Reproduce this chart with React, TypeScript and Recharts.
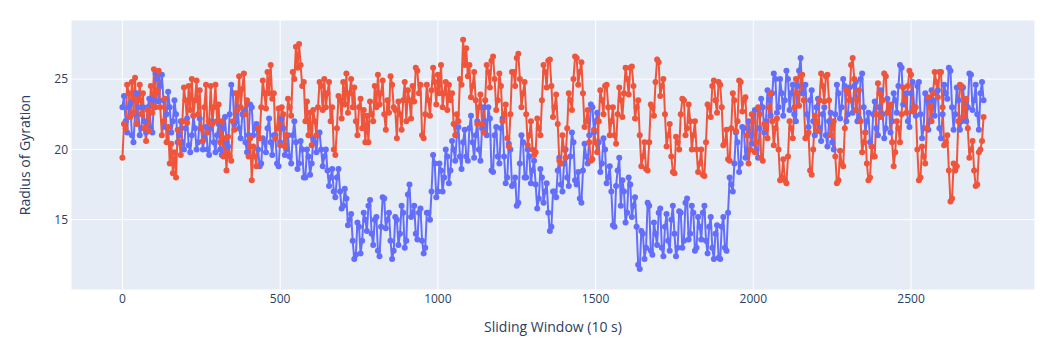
import React from 'react';
import { LineChart, Line, XAxis, YAxis, CartesianGrid } from 'recharts';

const BLUE = '#636efa';
const RED = '#EF553B';
const INK = '#2a3f5f';
const FONT = '"Open Sans", verdana, arial, sans-serif';

// one sample every 5 windows
const WINDOW_STEP = 5;

const xTicks = [0, 500, 1000, 1500, 2000, 2500];
const yTicks = [15, 20, 25];

const blueRg = [
  // 0
  23.0, 23.8, 22.0, 21.2, 23.0, 23.3, 21.0, 20.5, 22.5, 24.0, 23.0, 21.0, 21.5, 23.0, 22.0, 21.2, 23.0, 23.6, 21.5, 21.2,
  23.5, 25.4, 25.0, 23.4, 24.5, 25.3, 23.5, 21.6, 22.5, 24.1, 23.0, 21.2, 22.0, 23.5, 22.5, 20.5, 21.0, 22.0, 20.5, 20.0,
  21.5, 22.2, 20.3, 19.8, 21.0, 22.4, 21.5, 20.0, 20.5, 22.2, 21.5, 20.0, 20.8, 21.6, 20.0, 19.6, 21.5, 22.0, 20.5, 19.8,
  // 300
  21.0, 21.8, 20.0, 19.6, 21.5, 22.3, 20.5, 20.2, 22.5, 24.6, 24.0, 21.8, 22.0, 23.0, 21.5, 20.8, 22.5, 22.8, 20.5, 19.8,
  21.0, 23.2, 23.0, 21.0, 21.5, 21.8, 20.0, 18.8, 19.0, 20.8, 20.5, 19.8, 21.5, 22.2, 20.5, 19.6, 21.0, 21.0, 19.0, 18.8,
  20.5, 22.2, 21.5, 19.6, 20.0, 21.0, 19.5, 19.0, 21.0, 22.0, 20.5, 18.6, 19.0, 20.6, 20.0, 18.0, 18.0, 20.0, 19.5, 18.2,
  // 600
  19.0, 20.8, 20.5, 19.8, 21.0, 21.2, 20.0, 18.8, 19.5, 20.0, 18.5, 17.4, 18.0, 18.6, 17.0, 16.6, 18.0, 18.6, 17.0, 15.8,
  16.0, 17.2, 16.5, 14.6, 15.0, 15.4, 13.5, 12.2, 12.5, 14.8, 14.5, 12.6, 13.5, 15.5, 15.0, 14.2, 16.0, 16.4, 14.0, 13.2,
  15.0, 15.2, 12.8, 12.4, 14.5, 16.6, 16.5, 14.4, 15.0, 15.5, 13.5, 12.2, 12.8, 15.2, 15.0, 13.2, 14.0, 16.0, 15.5, 13.0,
  // 900
  13.5, 16.8, 17.5, 15.2, 15.5, 16.0, 14.0, 13.6, 15.5, 15.8, 13.5, 12.6, 13.0, 15.5, 15.5, 15.0, 17.0, 19.6, 19.0, 16.6,
  17.0, 19.0, 18.5, 17.0, 18.0, 20.0, 19.5, 17.6, 18.5, 20.6, 20.0, 19.2, 21.0, 21.6, 19.5, 18.6, 20.5, 21.4, 19.5, 19.2,
  21.5, 22.4, 20.5, 19.4, 21.0, 22.0, 20.0, 19.2, 21.5, 23.0, 22.0, 21.0, 23.0, 22.2, 18.5, 18.4, 21.0, 21.6, 19.5, 19.0,
  // 1200
  21.5, 22.2, 19.5, 17.6, 18.0, 20.4, 20.0, 17.4, 17.5, 18.0, 16.0, 16.2, 19.0, 21.0, 20.5, 18.0, 18.0, 20.0, 19.5, 17.6,
  18.5, 19.2, 17.5, 15.8, 16.5, 18.6, 18.0, 16.2, 17.0, 17.6, 15.5, 14.2, 14.5, 17.0, 17.0, 16.6, 18.5, 19.4, 17.5, 17.0,
  19.0, 20.0, 18.0, 17.4, 19.5, 21.2, 20.5, 17.8, 17.5, 18.4, 16.5, 16.2, 18.5, 20.4, 19.5, 19.0, 21.0, 23.2, 23.0, 21.2,
  // 1500
  22.0, 22.6, 20.5, 18.4, 19.0, 20.8, 20.0, 17.6, 18.0, 18.8, 17.0, 14.6, 14.5, 17.4, 18.5, 19.4, 16.0, 17.8, 17.0, 14.8,
  15.5, 18.0, 17.5, 15.2, 16.0, 16.6, 14.5, 11.8, 11.5, 14.2, 14.0, 12.2, 13.0, 16.2, 16.0, 12.8, 12.5, 14.8, 14.0, 13.2,
  15.5, 15.8, 13.0, 12.4, 14.5, 15.4, 13.5, 12.8, 15.0, 16.0, 14.0, 12.4, 13.0, 15.6, 15.5, 13.0, 13.5, 16.2, 16.5, 13.6,
  // 1800
  14.0, 16.0, 15.5, 12.8, 13.0, 15.2, 14.5, 13.6, 15.5, 16.0, 13.5, 12.6, 14.5, 15.2, 13.0, 12.2, 14.0, 14.6, 12.3, 12.2,
  14.5, 15.2, 13.0, 12.8, 15.5, 18.0, 17.5, 17.0, 19.0, 21.2, 20.5, 18.4, 19.0, 21.6, 21.5, 19.4, 20.0, 22.0, 21.0, 20.4,
  22.5, 22.8, 20.0, 19.4, 21.5, 23.6, 23.0, 21.2, 22.0, 24.2, 23.5, 22.4, 24.0, 25.4, 25.0, 22.6, 23.0, 25.0, 24.0, 22.4,
  // 2100
  23.5, 25.6, 25.0, 22.8, 24.0, 24.6, 22.5, 22.0, 24.5, 25.6, 26.5, 24.0, 24.0, 24.6, 22.5, 21.6, 23.5, 24.2, 22.0, 21.0,
  23.0, 23.6, 21.5, 20.6, 22.5, 23.0, 21.0, 20.2, 22.0, 22.6, 20.5, 20.0, 22.5, 24.6, 24.0, 22.2, 23.0, 25.0, 24.5, 22.0,
  22.5, 24.4, 23.5, 22.6, 24.5, 24.8, 22.0, 22.2, 25.0, 25.4, 23.0, 21.2, 22.0, 22.6, 20.5, 20.2, 22.5, 23.4, 21.5, 21.0,
  // 2400
  23.0, 24.2, 22.5, 20.8, 21.5, 23.6, 23.0, 21.2, 22.0, 24.0, 23.5, 22.6, 24.5, 26.0, 25.8, 23.2, 23.5, 24.0, 22.0, 21.6,
  24.0, 24.8, 23.0, 22.4, 24.5, 24.8, 22.5, 20.8, 21.5, 24.0, 23.5, 21.4, 22.0, 24.2, 23.5, 22.4, 24.0, 24.2, 21.5, 20.8,
  22.5, 24.6, 24.0, 23.6, 25.8, 25.6, 23.0, 21.4, 22.5, 24.4, 23.5, 21.4, 22.0, 24.4, 23.0, 22.0, 23.0, 25.4, 25.3, 22.8,
  // 2700
  23.5, 24.6, 22.5, 21.4, 24.0, 24.8, 23.5,
];

const redRg = [
  // 0
  19.4, 21.8, 21.5, 24.6, 24.0, 22.3, 24.8, 22.6, 25.1, 21.8, 23.5, 24.6, 22.5, 24.0, 21.5, 20.6, 22.8, 21.3, 24.5, 22.6,
  25.7, 23.0, 24.2, 25.6, 23.0, 21.0, 22.0, 23.6, 20.5, 21.6, 19.0, 20.4, 18.3, 19.8, 18.0, 21.4, 20.5, 19.6, 22.0, 24.4,
  23.5, 21.9, 24.5, 22.8, 25.0, 22.4, 23.5, 24.9, 22.5, 24.2, 21.5, 20.6, 23.0, 24.6, 21.2, 22.0, 24.5, 21.8, 23.0, 24.6,
  // 300
  22.0, 23.2, 20.5, 22.0, 19.5, 20.8, 18.5, 20.9, 19.5, 19.2, 22.0, 21.4, 24.0, 22.8, 25.2, 23.0, 24.3, 25.4, 22.5, 23.5,
  19.5, 20.8, 17.8, 20.2, 19.5, 18.8, 21.5, 20.8, 23.0, 24.9, 24.0, 22.9, 25.5, 24.0, 26.0, 23.6, 24.0, 20.8, 21.5, 22.9,
  20.3, 23.0, 22.5, 20.2, 21.0, 23.6, 23.0, 22.4, 25.5, 25.0, 27.3, 25.8, 27.5, 26.0, 24.5, 24.8, 22.0, 23.4, 21.0, 22.6,
  // 600
  20.3, 22.8, 22.0, 21.0, 23.0, 24.8, 24.5, 22.8, 25.0, 23.0, 24.0, 24.8, 22.0, 23.0, 20.0, 19.6, 21.5, 23.8, 23.5, 22.2,
  24.8, 23.2, 25.4, 22.6, 24.0, 25.0, 23.0, 24.4, 22.0, 21.0, 23.0, 23.6, 21.5, 22.8, 20.5, 22.4, 20.5, 23.4, 22.5, 22.0,
  24.5, 23.0, 25.3, 23.2, 24.0, 24.9, 22.5, 21.4, 23.5, 22.6, 25.2, 24.6, 23.0, 22.8, 20.8, 23.4, 22.5, 21.4, 23.5, 24.8,
  // 900
  22.0, 24.2, 23.5, 22.2, 24.5, 23.4, 25.8, 25.6, 24.0, 24.6, 21.0, 20.8, 22.5, 24.6, 23.5, 22.4, 24.2, 25.8, 24.8, 23.2,
  25.3, 24.0, 26.0, 23.0, 24.0, 24.8, 22.8, 24.6, 23.5, 24.0, 21.8, 21.0, 22.5, 22.0, 25.0, 24.6, 27.8, 26.0, 27.2, 25.2,
  26.0, 23.7, 24.5, 25.5, 23.5, 21.8, 23.0, 23.9, 21.8, 21.2, 23.5, 26.0, 25.5, 24.4, 26.3, 26.6, 25.0, 22.8, 23.5, 25.4,
  // 1200
  24.5, 22.0, 22.5, 23.2, 20.8, 20.2, 22.5, 25.5, 25.5, 24.5, 26.5, 26.8, 25.0, 23.0, 24.0, 24.8, 22.5, 20.3, 21.0, 22.0,
  20.0, 19.6, 19.8, 22.2, 21.5, 21.0, 23.5, 26.0, 25.5, 24.4, 26.3, 26.4, 24.5, 22.3, 23.0, 23.9, 21.8, 19.2, 19.0, 21.0,
  20.0, 19.4, 21.5, 24.0, 23.5, 22.8, 25.0, 26.6, 26.5, 24.6, 25.5, 26.2, 24.0, 21.6, 22.0, 22.8, 20.5, 19.2, 19.3, 21.4,
  // 1500
  20.5, 19.8, 22.0, 24.2, 23.5, 22.5, 24.5, 24.6, 23.0, 21.0, 22.0, 23.0, 21.0, 20.4, 22.5, 24.4, 23.5, 22.3, 24.0, 25.8,
  25.0, 23.9, 25.8, 25.9, 24.5, 22.2, 23.0, 23.5, 21.0, 18.8, 19.5, 20.5, 18.6, 18.5, 20.5, 23.2, 23.0, 22.4, 24.8, 26.4,
  26.2, 23.8, 24.5, 25.0, 22.5, 20.2, 21.0, 21.8, 19.5, 18.4, 18.3, 20.9, 20.5, 20.0, 22.5, 23.6, 23.5, 21.0, 21.5, 23.2,
  // 1800
  22.0, 20.0, 21.0, 22.0, 20.0, 18.4, 19.0, 20.0, 18.2, 18.1, 20.5, 23.2, 23.0, 22.3, 24.5, 24.9, 23.5, 22.6, 24.8, 24.6,
  23.0, 20.3, 20.5, 21.4, 19.3, 19.2, 21.5, 24.0, 23.5, 21.3, 22.0, 24.9, 24.8, 22.7, 23.5, 23.7, 21.0, 19.0, 20.0, 22.5,
  22.0, 19.8, 20.5, 23.0, 22.5, 19.4, 19.2, 21.8, 21.5, 20.8, 23.0, 24.0, 22.0, 20.3, 21.5, 22.2, 20.0, 17.8, 18.0, 19.3,
  // 2100
  17.8, 17.6, 19.5, 22.0, 21.5, 20.8, 23.0, 25.0, 24.0, 23.1, 25.2, 25.3, 23.5, 20.8, 21.0, 21.2, 18.5, 18.2, 20.0, 22.4,
  22.0, 21.3, 23.5, 25.4, 24.5, 23.4, 25.2, 25.3, 23.5, 21.0, 21.5, 22.0, 19.5, 17.6, 17.8, 19.9, 19.0, 18.8, 21.5, 24.2,
  24.0, 23.5, 26.0, 26.5, 25.0, 22.8, 23.5, 24.2, 22.0, 19.8, 20.5, 21.2, 19.0, 17.8, 18.0, 20.2, 19.5, 19.5, 22.5, 24.7,
  // 2400
  24.0, 22.3, 23.5, 25.4, 25.2, 22.6, 23.0, 23.2, 20.5, 18.8, 19.8, 22.0, 21.5, 20.5, 22.5, 24.4, 23.5, 22.6, 24.5, 25.6,
  25.3, 22.7, 23.0, 23.0, 20.0, 17.8, 18.0, 20.2, 19.5, 19.0, 21.5, 23.7, 23.0, 22.0, 24.0, 25.5, 24.8, 23.7, 25.5, 25.5,
  23.0, 20.3, 20.5, 21.0, 18.5, 16.3, 16.5, 19.0, 18.5, 18.8, 22.0, 24.6, 24.5, 22.3, 23.0, 23.6, 21.5, 19.4, 20.0, 20.6,
  // 2700
  18.5, 17.4, 17.5, 19.8, 20.0, 20.6, 22.3,
];

const windows = blueRg.map((_, i) => i * WINDOW_STEP);

const data = windows.map((w, i) => ({ w, blue: blueRg[i], red: redRg[i] }));

export default function App() {
  return (
    <div style={{ position: 'absolute', left: 0, top: 0, width: 1047, height: 347, background: '#fff' }}>
      <LineChart width={1047} height={347} data={data} margin={{ top: 20, right: 12, bottom: 0, left: 0 }}>
        <CartesianGrid fill="#E5ECF6" stroke="#ffffff" strokeWidth={1} />
        <XAxis
          dataKey="w"
          type="number"
          domain={[-163, 2893]}
          ticks={xTicks}
          axisLine={false}
          tickLine={false}
          tickSize={0}
          tickMargin={4}
          height={57}
          tick={{ fill: INK, fontSize: 12, fontFamily: FONT }}
          label={{ value: 'Sliding Window (10 s)', position: 'insideBottom', offset: 15, fill: INK, fontSize: 14, fontFamily: FONT }}
        />
        <YAxis
          type="number"
          domain={[10.0, 29.2]}
          ticks={yTicks}
          axisLine={false}
          tickLine={false}
          tickSize={0}
          tickMargin={3}
          width={71}
          tick={{ fill: INK, fontSize: 12, fontFamily: FONT }}
          label={{
            value: 'Radius of Gyration',
            angle: -90,
            position: 'insideLeft',
            offset: 25,
            fill: INK,
            fontSize: 14,
            fontFamily: FONT,
            style: { textAnchor: 'middle' },
          }}
        />
        <Line
          type="linear"
          dataKey="blue"
          stroke={BLUE}
          strokeWidth={2}
          dot={{ r: 3, fill: BLUE, stroke: BLUE, strokeWidth: 0 }}
          activeDot={false}
          isAnimationActive={false}
        />
        <Line
          type="linear"
          dataKey="red"
          stroke={RED}
          strokeWidth={2}
          dot={{ r: 3, fill: RED, stroke: RED, strokeWidth: 0 }}
          activeDot={false}
          isAnimationActive={false}
        />
      </LineChart>
    </div>
  );
}
